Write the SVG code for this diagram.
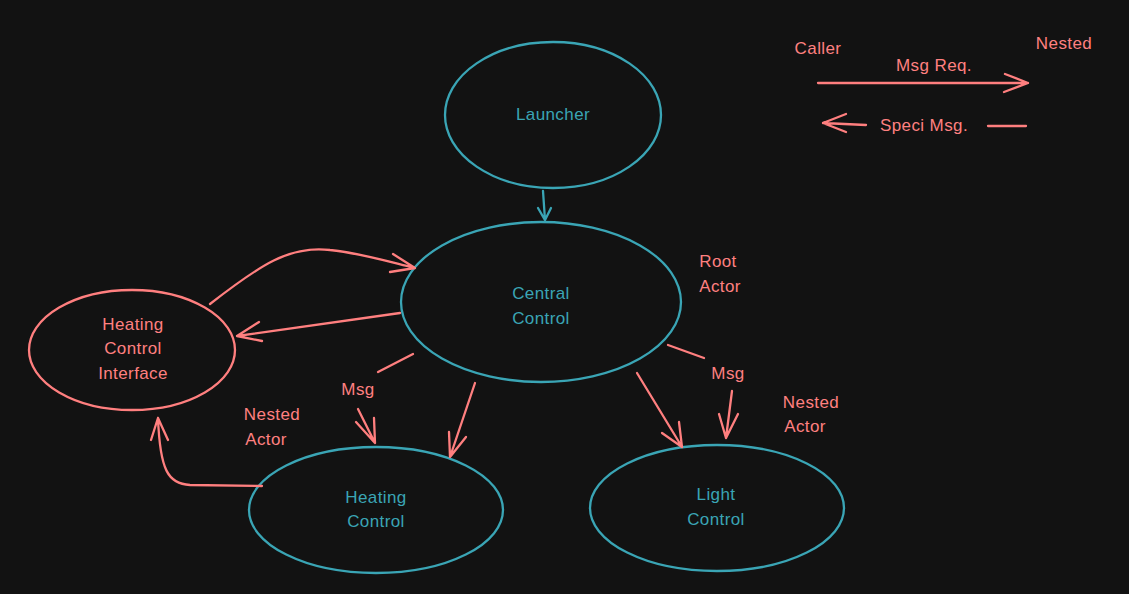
<svg xmlns="http://www.w3.org/2000/svg" width="1129" height="594" viewBox="0 0 1129 594">
<style>
.bg{fill:#121212}
.teal{fill:none;stroke:#3aa5b5;stroke-width:2.3;stroke-linecap:round}
.red{fill:none;stroke:#ff7f7f;stroke-width:2.3;stroke-linecap:round;stroke-linejoin:round}
.tt{fill:#3aa5b5;font-family:"Liberation Sans",Arial,sans-serif;font-size:17px;letter-spacing:0.4px;text-anchor:middle;dominant-baseline:middle}
.rt{fill:#ff8080;font-family:"Liberation Sans",Arial,sans-serif;font-size:17px;letter-spacing:0.4px;text-anchor:middle;dominant-baseline:middle}
</style>
<rect class="bg" x="0" y="0" width="1129" height="594"/>
<g id="launcher">
<ellipse class="teal" cx="553" cy="115" rx="108" ry="73"/>
<text class="tt" x="553" y="116">Launcher</text>
</g>
<g id="central-control">
<ellipse class="teal" cx="541" cy="302" rx="140" ry="80"/>
<text class="tt" x="541" y="295">Central</text>
<text class="tt" x="541" y="320">Control</text>
</g>
<g id="heating-control-interface">
<ellipse class="red" cx="132" cy="350" rx="103" ry="60"/>
<text class="rt" x="133" y="326">Heating</text>
<text class="rt" x="133" y="350">Control</text>
<text class="rt" x="133" y="375">Interface</text>
</g>
<g id="heating-control">
<ellipse class="teal" cx="376" cy="510" rx="127" ry="63"/>
<text class="tt" x="376" y="499">Heating</text>
<text class="tt" x="376" y="523">Control</text>
</g>
<g id="light-control">
<ellipse class="teal" cx="717" cy="508" rx="127" ry="63"/>
<text class="tt" x="716" y="496">Light</text>
<text class="tt" x="716" y="521">Control</text>
</g>
<g id="labels">
<text class="rt" x="718" y="263">Root</text>
<text class="rt" x="720" y="288">Actor</text>
<text class="rt" x="272" y="416">Nested</text>
<text class="rt" x="266" y="441">Actor</text>
<text class="rt" x="811" y="404">Nested</text>
<text class="rt" x="805" y="428">Actor</text>
<text class="rt" x="358" y="391">Msg</text>
<text class="rt" x="728" y="375">Msg</text>
<text class="rt" x="818" y="50">Caller</text>
<text class="rt" x="1064" y="45">Nested</text>
<text class="rt" x="934" y="67">Msg Req.</text>
<text class="rt" x="924" y="127">Speci Msg.</text>
</g>
<g id="connectors">
<path class="teal" d="M543 191 L545 220 M538 208 L545 220 L551 208"/>
<path class="red" d="M210 304 C260 265 290 245 330 250 C360 253 390 262 415 268 M393 254 L415 268 L390 272"/>
<path class="red" d="M400 313 L237 336 M259 322 L237 336 L262 341"/>
<path class="red" d="M413 354 L378 372"/>
<path class="red" d="M358 409 L375 443 M356 422 L375 443 L374 418"/>
<path class="red" d="M475 383 L450 457 M449 432 L450 457 L466 437"/>
<path class="red" d="M637 373 L682 447 M662 433 L682 447 L679 422"/>
<path class="red" d="M668 345 L704 358"/>
<path class="red" d="M732 391 L726 438 M719 414 L726 438 L738 414"/>
<path class="red" d="M262 486 L190 485 C168 484 160 470 158 418 M151 440 L158 418 L168 440"/>
<path class="red" d="M818 83 L1028 83 M1005 74 L1028 83 L1004 92"/>
<path class="red" d="M866 125 L823 123 M846 114 L823 123 L846 132"/>
<path class="red" d="M988 126 L1026 126"/>
</g>
</svg>
